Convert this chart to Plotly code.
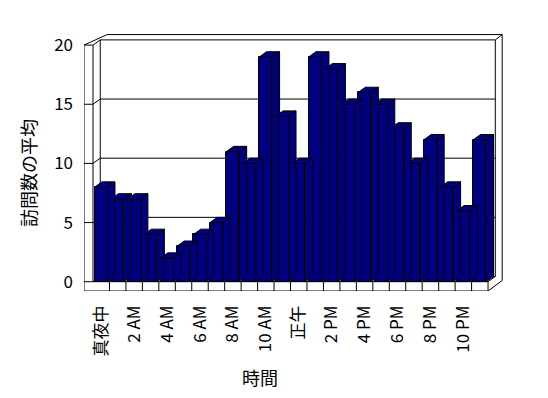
import plotly.graph_objects as go

# ---- data ----
hours = list(range(24))
visits = [8, 7, 7, 4, 2, 3, 4, 5, 11, 10, 19, 14, 10, 19, 18, 15, 16, 15, 13, 10, 12, 8, 6, 12]
tick_pos = [0, 2, 4, 6, 8, 10, 12, 14, 16, 18, 20, 22]
tick_text = ["真夜中", "2 AM", "4 AM", "6 AM", "8 AM", "10 AM", "正午",
             "2 PM", "4 PM", "6 PM", "8 PM", "10 PM"]
y_ticks = [0, 5, 10, 15, 20]
y_title = "訪問数の平均"
x_title = "時間"

# ---- style / geometry (in data units) ----
NAVY = "#000080"
FONT = "Noto Sans CJK JP"
BAR_W = 0.79
DX, DY = 0.44, 0.44          # depth offset of the 3D box
TX, TY = 0.42, 0.45          # wall thickness
SIDE_W = 0.547               # left wall thickness
FLOOR_H = 0.786              # floor thickness
YMAX = y_ticks[-1]
N = len(hours)
XL = -0.5 - SIDE_W
XR = N - 0.5
LINE = dict(color="black", width=1)

fig = go.Figure()

# side and top faces (drawn first; fronts cover them appropriately)
for h, v in zip(hours, visits):
    l, r = h - BAR_W / 2, h + BAR_W / 2
    fig.add_trace(go.Scatter(
        x=[r, r, r + DX, r + DX, r], y=[0, v, v + DY, DY, 0],
        mode="lines", fill="toself", fillcolor=NAVY, line=LINE,
        hoverinfo="skip", showlegend=False))
    fig.add_trace(go.Scatter(
        x=[l, r, r + DX, l + DX, l], y=[v, v, v + DY, v + DY, v],
        mode="lines", fill="toself", fillcolor=NAVY, line=LINE,
        hoverinfo="skip", showlegend=False))

# front faces
fig.add_trace(go.Bar(x=hours, y=visits, width=BAR_W,
                     marker=dict(color=NAVY, line=LINE),
                     hoverinfo="x+y", showlegend=False))

shapes = []
def seg(x0, y0, x1, y1):
    shapes.append(dict(type="line", xref="x", yref="y", x0=x0, y0=y0, x1=x1, y1=y1,
                       line=LINE, layer="below"))

# back wall (front face)
seg(-0.5 + DX, DY, XR + DX, DY)
seg(-0.5 + DX, YMAX + DY, XR + DX, YMAX + DY)
seg(-0.5 + DX, DY, -0.5 + DX, YMAX + DY)
seg(XR + DX, DY, XR + DX, YMAX + DY)
# gridlines + ticks
for v in y_ticks:
    seg(XL, v, -0.5, v)
    seg(-0.5, v, -0.5 + DX, v + DY)
    if 0 < v < YMAX:
        seg(-0.5 + DX, v + DY, XR + DX, v + DY)
# left wall
seg(XL, -FLOOR_H, XL, YMAX)
seg(-0.5, 0, -0.5, YMAX)
# outer edges of the box
seg(XL, YMAX, -0.5 + DX + TX, YMAX + DY + TY)
seg(-0.5 + DX + TX, YMAX + DY + TY, XR + DX + TX, YMAX + DY + TY)
seg(XR + DX, YMAX + DY, XR + DX + TX, YMAX + DY + TY)
seg(XR + DX + TX, YMAX + DY + TY, XR + DX + TX, -FLOOR_H + DY + TY)
seg(XR, -FLOOR_H, XR + DX + TX, -FLOOR_H + DY + TY)
seg(XR, 0, XR + DX, DY)
# floor
seg(-0.5, 0, XR, 0)
seg(XL, -FLOOR_H, XR, -FLOOR_H)
seg(XR, -FLOOR_H, XR, 0)
for h in hours[:-1]:
    seg(h + 0.5, -FLOOR_H, h + 0.5, 0)

L, R, T, B = 84, 38, 30, 107
W, H = 548, 398
px_per_cat = 16.46
px_per_unit = 11.83
x_hi = XL + (W - L - R) / px_per_cat
y_hi = -FLOOR_H + (H - T - B) / px_per_unit

fig.update_layout(
    width=W, height=H,
    margin=dict(l=L, r=R, t=T, b=B, pad=0),
    paper_bgcolor="white", plot_bgcolor="white",
    font=dict(family=FONT, size=15, color="black"),
    shapes=shapes,
    xaxis=dict(range=[XL, x_hi], showgrid=False, zeroline=False, showline=False,
               tickmode="array", tickvals=tick_pos, ticktext=tick_text,
               tickangle=-90, ticks="", ticklabelstandoff=10,
               tickfont=dict(family=FONT, size=17)),
    yaxis=dict(range=[-FLOOR_H, y_hi], showgrid=False, zeroline=False, showline=False,
               tickmode="array", tickvals=y_ticks, ticks="", ticklabelstandoff=10,
               tickfont=dict(family=FONT, size=17)),
    annotations=[
        dict(text=y_title, xref="paper", yref="paper", x=0, y=(291 - 173) / (H - T - B),
             xshift=28 - L, xanchor="center", yanchor="middle", textangle=-90,
             showarrow=False, font=dict(family=FONT, size=18)),
        dict(text=x_title, xref="paper", yref="paper", x=(260 - L) / (W - L - R),
             y=-(377 - 291) / (H - T - B), xanchor="center", yanchor="middle",
             showarrow=False, font=dict(family=FONT, size=18)),
    ],
    bargap=0,
)

fig.write_html("out.html")
